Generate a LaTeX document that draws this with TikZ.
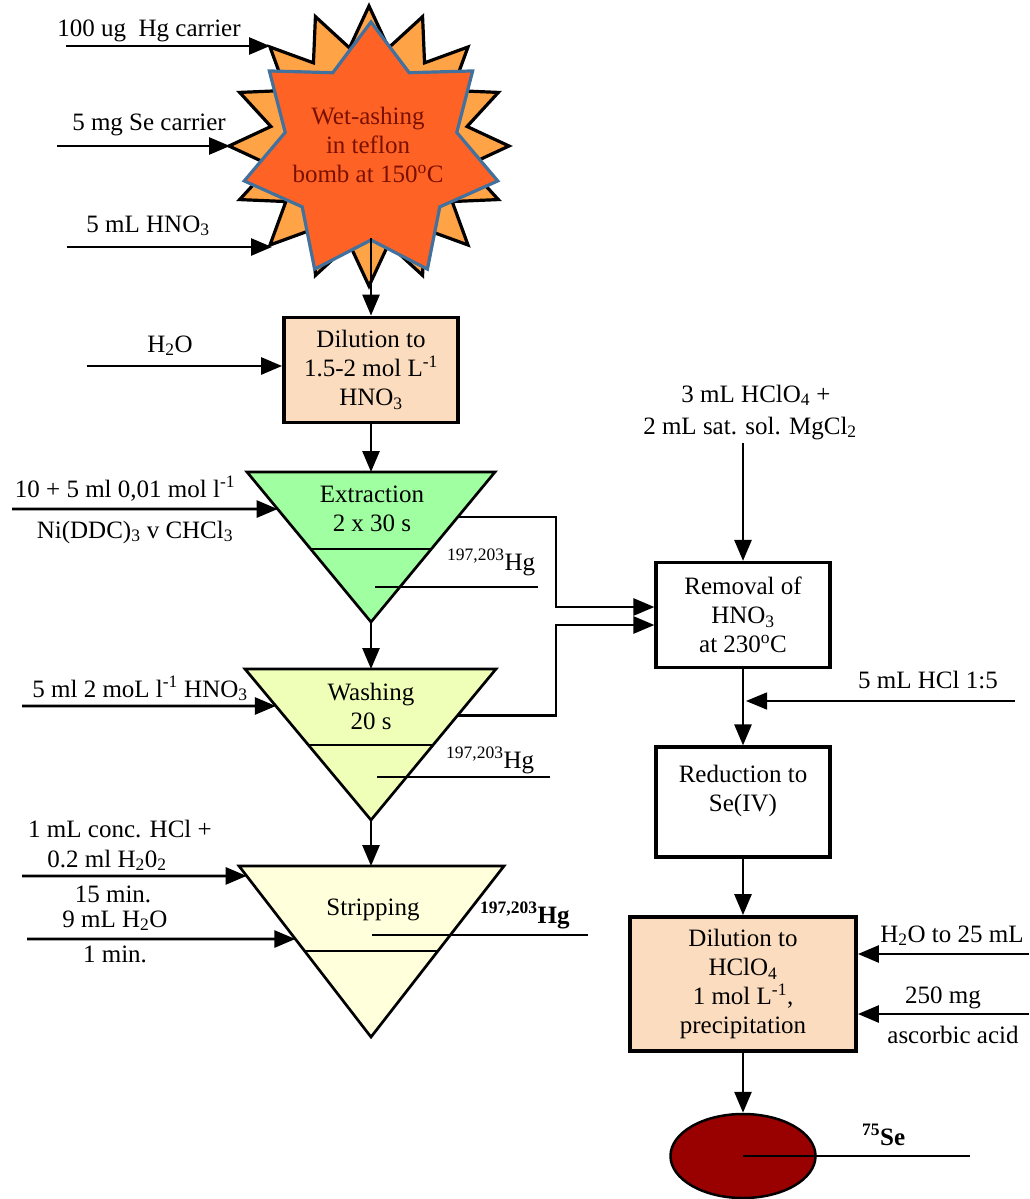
\documentclass[tikz,border=0pt]{standalone}
\usepackage{fontspec}
\setmainfont{Liberation Serif}
\usetikzlibrary{arrows.meta,shapes.geometric,calc}

\definecolor{burstor}{RGB}{255,163,71}
\definecolor{starred}{RGB}{255,98,37}
\definecolor{starblue}{RGB}{65,113,156}
\definecolor{wetred}{RGB}{122,16,0}
\definecolor{peach}{RGB}{252,220,190}
\definecolor{extgreen}{RGB}{160,255,160}
\definecolor{washgreen}{RGB}{240,255,184}
\definecolor{stripcream}{RGB}{255,255,220}
\definecolor{sered}{RGB}{153,0,0}

\tikzstyle{arr} = [-{Triangle[length=21pt,width=17pt]}, line width=2.7pt]
\tikzstyle{pbox} = [rectangle, draw=black, line width=3.8pt, fill=peach, minimum width=174pt, minimum height=105pt, align=center, inner sep=0pt]
\tikzstyle{wbox} = [rectangle, draw=black, line width=3.2pt, fill=white, minimum width=174pt, minimum height=105pt, align=center, inner sep=0pt]
\tikzstyle{lbl} = [anchor=base, inner sep=0pt, align=center]
\tikzstyle{funnel} = [draw=black, line width=2.7pt, line join=miter]
\tikzstyle{waste} = [line width=2.7pt]

\begin{document}
\begin{tikzpicture}[x=1pt,y=-1pt,font=\fontsize{25}{29}\selectfont]
\useasboundingbox (0,0) rectangle (1029,1199);

% wet-ashing bomb
\begin{scope}[shift={(369,146)}]
\draw[line width=3.2pt, fill=burstor, line join=miter] (90:140pt)
  \foreach \i [evaluate=\i as \r using {isodd(\i) ? 100 : 140}] in {1,...,31} { -- ({90+\i*11.25}:\r pt) } -- cycle;
\end{scope}
\begin{scope}[shift={(371,152)}]
\draw[line width=3.2pt, draw=starblue, fill=starred, line join=miter] (90:130pt)
  \foreach \i [evaluate=\i as \r using {isodd(\i) ? 88 : 130}] in {1,...,13} { -- ({90+\i*360/14}:\r pt) } -- cycle;
\end{scope}
\node[align=center, text=wetred, inner sep=0pt] (wet) at (368,145) {Wet-ashing\\in teflon\\bomb at 150\textsuperscript{o}C};

\node[lbl] (hgc) at (149,37) {100 ug\ \ Hg carrier};
\node[lbl] (sec) at (149,130) {5 mg Se carrier};
\node[lbl] (hno) at (148,232) {5 mL HNO\textsubscript{3}};
\coordinate (hgc0) at (66,46);
\coordinate (hgc1) at (270,46);
\coordinate (sec0) at (57,146);
\coordinate (sec1) at (230,146);
\coordinate (hno0) at (67,247);
\coordinate (hno1) at (272,247);
\draw[arr] (hgc0) -- (hgc1);
\draw[arr] (sec0) -- (sec1);
\draw[arr] (hno0) -- (hno1);

% dilution 1
\node[pbox] (dil1) at (371,370) {Dilution to\\1.5-2 mol L\textsuperscript{-1}\\HNO\textsubscript{3}};
\coordinate (wb) at (371,238);
\draw[arr] (wb) -- (dil1.north);
\node[lbl] (h2o) at (170,352) {H\textsubscript{2}O};
\coordinate (h2o0) at (87,366);
\draw[arr] (h2o0) -- (h2o0 -| dil1.west);

% extraction
\coordinate (eTL) at (247,472);
\coordinate (eTR) at (495,472);
\coordinate (eA) at (371,622);
\draw[funnel, fill=extgreen] (eTL) -- (eTR) -- (eA) -- cycle;
\draw[funnel] ($(eTL)!0.513!(eA)$) -- ($(eTR)!0.513!(eA)$);
\node[align=center, inner sep=0pt] (ext) at (372,509) {Extraction\\2 x 30 s};
\draw[arr] (dil1.south) -- (dil1.south |- eTL);
\node[lbl] (ddc1) at (125,497) {10 + 5 ml 0,01 mol l\textsuperscript{-1}};
\node[lbl] (ddc2) at (135,538) {Ni(DDC)\textsubscript{3} v CHCl\textsubscript{3}};
\coordinate (ddc0) at (12,509);
\draw[arr] (ddc0) -- ($(eTL)!0.247!(eA)$);
\coordinate (eW0) at (375,587);
\coordinate (eW1) at (538,587);
\draw[waste] (eW0) -- (eW1);
\node[lbl, anchor=base west] (eHg) at (447,570) {\textsuperscript{197,203}Hg};

% washing
\coordinate (wTL) at (245,669);
\coordinate (wTR) at (496,669);
\coordinate (wA) at (371,820);
\draw[funnel, fill=washgreen] (wTL) -- (wTR) -- (wA) -- cycle;
\draw[funnel] ($(wTL)!0.503!(wA)$) -- ($(wTR)!0.503!(wA)$);
\node[align=center, inner sep=0pt] (wash) at (371,706) {Washing\\20 s};
\draw[arr] (eA) -- (eA |- wTL);
\node[lbl] (wno) at (140,697) {5 ml 2 moL l\textsuperscript{-1} HNO\textsubscript{3}};
\coordinate (wno0) at (22,706);
\draw[arr] (wno0) -- ($(wTL)!0.245!(wA)$);
\coordinate (wW0) at (377,777);
\coordinate (wW1) at (550,777);
\draw[waste] (wW0) -- (wW1);
\node[lbl, anchor=base west] (wHg) at (446,768) {\textsuperscript{197,203}Hg};

% stripping
\coordinate (sTL) at (239,866);
\coordinate (sTR) at (504,866);
\coordinate (sA) at (371,1037);
\draw[funnel, fill=stripcream] (sTL) -- (sTR) -- (sA) -- cycle;
\draw[funnel] ($(sTL)!0.497!(sA)$) -- ($(sTR)!0.497!(sA)$);
\node[lbl] (strip) at (373,915) {Stripping};
\draw[arr] (wA) -- (wA |- sTL);
\node[lbl] (hcl1) at (120,837) {1 mL conc. HCl +};
\node[lbl] (hcl2) at (107,867) {0.2 ml H\textsubscript{2}0\textsubscript{2}};
\node[lbl] (min15) at (113,902) {15 min.};
\node[lbl] (wat) at (115,927) {9 mL H\textsubscript{2}O};
\node[lbl] (min1) at (115,962) {1 min.};
\coordinate (hcl0) at (22,876);
\coordinate (wat0) at (27,939);
\draw[arr] (hcl0) -- ($(sTL)!0.058!(sA)$);
\draw[arr] (wat0) -- ($(sTL)!0.427!(sA)$);
\coordinate (sW0) at (372,935);
\coordinate (sW1) at (588,935);
\draw[waste] (sW0) -- (sW1);
\node[lbl, anchor=base west] (sHg) at (480,923) {\textbf{\textsuperscript{197,203}Hg}};

% removal of HNO3
\node[lbl] (hclo) at (756,402) {3 mL HClO\textsubscript{4} +};
\node[lbl] (mgcl) at (750,434) {2 mL sat. sol. MgCl\textsubscript{2}};
\node[wbox] (rem) at (743,615) {Removal of\\HNO\textsubscript{3}\\at 230\textsuperscript{o}C};
\coordinate (rin) at (743,443);
\draw[arr] (rin) -- (rem.north);
\coordinate (jx) at (556,0);
\coordinate (eR) at ($(eTR)!0.3!(eA)$);
\coordinate (wR) at ($(wTR)!0.31!(wA)$);
\draw[arr, line join=miter] (eR) -- (eR -| jx) |- ([yshift=8pt]rem.west);
\draw[arr, line join=miter] (wR) -- (wR -| jx) |- ([yshift=-10pt]rem.west);

% reduction
\node[wbox, minimum height=110pt] (red) at (743,802) {};
\node[align=center, inner sep=0pt] (redt) at (743,791) {Reduction to\\Se(IV)};
\draw[arr] (rem.south) -- (red.north);
\node[lbl] (hcl) at (928,688) {5 mL HCl 1:5};
\coordinate (hcl5a) at (1015,701);
\coordinate (hcl5b) at (746,701);
\draw[arr, line width=1.6pt] (hcl5a) -- (hcl5b);

% dilution 2
\node[pbox, minimum width=226pt, minimum height=134pt] (dil2) at (743,984) {Dilution to\\HClO\textsubscript{4}\\1 mol L\textsuperscript{-1},\\precipitation};
\draw[arr] (red.south) -- (dil2.north);
\node[lbl] (h25) at (952,942) {H\textsubscript{2}O to 25 mL};
\node[lbl] (asc1) at (943,1003) {250 mg};
\node[lbl] (asc2) at (953,1043) {ascorbic acid};
\coordinate (h250) at (1029,954);
\coordinate (asc0) at (1029,1014);
\draw[arr] (h250) -- (h250 -| dil2.east);
\draw[arr] (asc0) -- (asc0 -| dil2.east);

% precipitate
\node[ellipse, draw=black, line width=2.5pt, fill=sered, minimum width=145pt, minimum height=84pt] (se) at (743,1156) {};
\draw[arr] (dil2.south) -- (se.north);
\coordinate (se1) at (970,1156);
\draw[waste] (se.center) -- (se1);
\node[lbl, anchor=base west] (seLbl) at (862,1145) {\textbf{\textsuperscript{75}Se}};

\end{tikzpicture}
\end{document}
